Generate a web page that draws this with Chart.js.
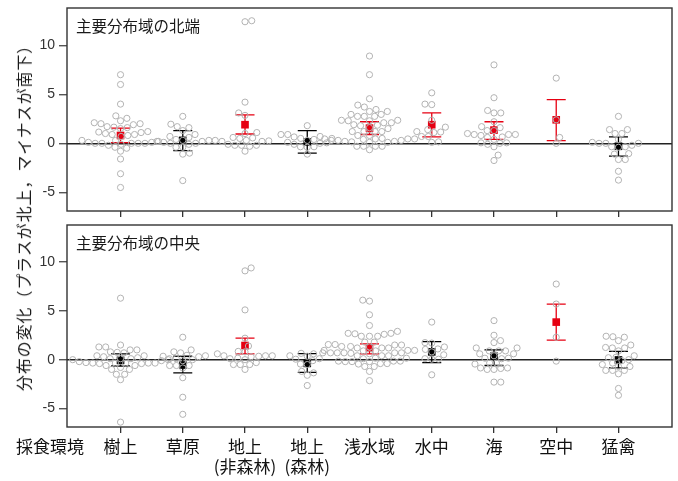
<!DOCTYPE html>
<html><head><meta charset="utf-8">
<script src="https://cdn.jsdelivr.net/npm/chart.js@4/dist/chart.umd.min.js"></script>
<style>
html,body{margin:0;padding:0;background:#fff;}
#wrap{position:relative;width:678px;height:481px;overflow:hidden;background:#fff;}
#c1{position:absolute;left:0;top:0;}
#c2{position:absolute;left:0;top:218px;}
#ytitle{position:absolute;left:23px;top:214px;transform:translate(-50%,-50%) rotate(-90deg);white-space:nowrap;font-size:16px;font-family:"Noto Sans CJK JP";color:#1a1a1a;line-height:1;letter-spacing:0.9px;}
</style></head><body>
<div id="wrap">
<canvas id="c1" width="678" height="218"></canvas>
<canvas id="c2" width="678" height="263"></canvas>
<div id="ytitle">分布の変化（プラスが北上，マイナスが南下）</div>
</div>
<script>
// ---------- data ----------
const categories = ['樹上', '草原', ['地上', '(非森林)'], ['地上', '(森林)'], '浅水域', '水中', '海', '空中', '猛禽'];
const axisName = '採食環境';
const yTickValues = [-5, 0, 5, 10];
const panelTitles = ['主要分布域の北端', '主要分布域の中央'];

// 北端 (northern edge)
const northPoints = [
  [7.0, 6.0, 4.0, 2.8, 2.55, 2.3, 2.1, 2.0, 2.0, 1.9, 1.7, 1.65, 1.6, 1.5, 1.2, 1.15, 1.1, 1.0, 0.9, 0.9, 0.8, 0.7, 0.3, 0.3, 0.2, 0.1, 0.1, 0, 0, 0, 0, 0, -0.1, -0.2, -0.4, -0.5, -0.8, -1.6, -3.1, -4.5],
  [2.75, 1.95, 1.7, 1.6, 1.3, 0.9, 0.7, 0.6, 0.4, 0.3, 0.3, 0.2, 0.2, 0.1, 0, 0, -0.1, -0.4, -0.4, -1.0, -1.1, -3.8],
  [12.5, 12.4, 4.2, 3.1, 2.85, 1.1, 1.0, 0.6, 0.55, 0.5, 0.3, 0.3, 0.25, 0.2, 0.2, -0.1, -0.2, -0.2, -0.2, -0.3, -0.8],
  [1.8, 0.9, 0.9, 0.7, 0.65, 0.5, 0.5, 0.4, 0.3, 0.1, 0.05, 0.0, -0.1, -0.35, -0.35, -0.4, -1.1],
  [8.9, 7.0, 4.55, 3.9, 3.7, 3.45, 3.25, 3.25, 2.95, 2.95, 2.75, 2.75, 2.75, 2.35, 2.35, 2.3, 2.3, 2.1, 2.1, 1.9, 1.85, 1.8, 1.6, 1.5, 1.2, 1.2, 1.2, 1.2, 0.8, 0.8, 0.5, 0.45, 0.45, 0.45, 0.45, 0.4, 0.3, 0.3, 0.3, 0.2, 0.2, 0.15, 0.1, 0.1, -0.3, -0.3, -0.3, -0.3, -0.65, -3.55],
  [5.15, 4.0, 3.95, 2.35, 1.65, 1.4, 1.2, 1.15, 1.1, 0.7, 0.7, 0.15, 0.1],
  [8.0, 4.65, 3.35, 3.1, 3.1, 2.2, 1.7, 1.6, 1.3, 1.3, 1.0, 0.9, 0.9, 0.9, 0.8, 0.65, 0.6, 0.4, 0.05, 0.05, 0.0, -0.1, -0.35, -1.2, -1.75],
  [6.65, 2.4, 0.6, 0.0],
  [2.75, 1.4, 1.4, 1.0, 1.0, 0.4, 0.1, 0.0, 0.0, 0.0, -0.2, -0.35, -0.35, -0.4, -1.05, -1.1, -1.65, -1.65, -2.85, -3.75]
];
const northMean = [0.8, 0.3, 1.9, 0.15, 1.55, 1.9, 1.35, 2.4, -0.3];
const northLow  = [0.07, -0.75, 0.95, -1.0, 0.9, 0.65, 0.4, 0.27, -1.3];
const northHigh = [1.55, 1.3, 2.9, 1.3, 2.2, 3.1, 2.2, 4.45, 0.65];
const northSignificant = [true, false, true, false, true, true, true, true, false];

// 中央 (centre)
const centrePoints = [
  [6.3, 1.5, 1.3, 1.3, 1.0, 1.0, 0.8, 0.75, 0.7, 0.4, 0.4, 0.3, 0.2, 0.1, 0.1, 0.1, 0.0, 0.0, -0.1, -0.2, -0.3, -0.35, -0.35, -0.35, -0.35, -0.35, -0.4, -0.4, -0.6, -0.6, -0.8, -1.0, -1.0, -1.5, -1.5, -2.05, -6.4],
  [2.3, 1.0, 0.8, 0.7, 0.45, 0.4, 0.35, 0.3, 0.1, 0.1, 0.0, -0.1, -0.6, -0.6, -0.6, -0.85, -1.85, -3.85, -5.6],
  [9.4, 9.1, 5.1, 2.2, 1.4, 0.85, 0.8, 0.6, 0.4, 0.4, 0.4, 0.35, 0.3, 0.15, 0.1, 0.0, -0.3, -0.5, -0.5, -0.5, -1.0],
  [0.7, 0.65, 0.6, 0.4, 0.35, 0.1, 0.05, -0.1, -0.45, -0.5, -1.2, -1.35, -1.6, -2.65],
  [6.1, 6.0, 4.6, 3.5, 2.9, 2.7, 2.7, 2.65, 2.6, 2.4, 2.4, 2.4, 1.8, 1.8, 1.55, 1.55, 1.5, 1.5, 1.35, 1.35, 1.3, 1.2, 1.2, 1.2, 0.95, 0.95, 0.95, 0.9, 0.9, 0.7, 0.7, 0.7, 0.7, 0.7, 0.65, 0.6, 0.4, 0.4, 0.4, 0.15, 0.15, 0.1, -0.15, -0.15, -0.15, -0.2, -0.2, -0.2, -0.4, -0.4, -0.45, -0.7, -0.7, -1.2, -2.15],
  [3.85, 1.75, 1.7, 1.3, 1.1, 1.05, 0.8, 0.5, 0.1, 0.05, 0.05, -1.55],
  [4.0, 2.5, 1.95, 1.75, 1.2, 1.2, 0.9, 0.9, 0.9, 0.6, 0.6, 0.4, 0.15, 0.15, 0.1, -0.35, -0.35, -0.45, -0.85, -0.85, -0.9, -1.0, -1.0, -2.3, -2.3],
  [7.75, 5.7, 2.3, -0.15],
  [2.4, 2.35, 2.3, 1.95, 1.5, 1.25, 1.2, 1.2, 0.9, 0.4, 0.25, 0.2, 0.0, -0.1, -0.35, -0.5, -0.7, -0.7, -1.1, -1.1, -1.1, -1.45, -2.95, -3.65]
];
const centreMean = [-0.07, -0.55, 1.45, -0.38, 1.22, 0.8, 0.35, 3.85, -0.03];
const centreLow  = [-0.65, -1.35, 0.6, -1.3, 0.6, -0.3, -0.6, 2.0, -0.85];
const centreHigh = [0.6, 0.35, 2.2, 0.62, 1.62, 1.85, 1.0, 5.7, 0.85];
const centreSignificant = [false, false, true, false, true, false, false, true, false];

// ---------- styling ----------
const RED = '#e60012';
const BLACK = '#000000';
const GREY = '#b3b3b3';
const FRAME = '#333333';
const CJK = '"Noto Sans CJK JP", "Noto Sans CJK SC", sans-serif';

function swarmLayout(chart, groups) {
  const xs = chart.scales.x, ys = chart.scales.y;
  const pxPerCat = xs.getPixelForValue(1) - xs.getPixelForValue(0);
  const D = 6.8;
  const out = [];
  groups.forEach((vals, ci) => {
    const pts = vals.map(v => ({ v: v, py: ys.getPixelForValue(v) }))
      .sort((a, b) => b.py - a.py);
    const placed = [];
    let toggle = 1;
    pts.forEach(p => {
      const cands = [0];
      placed.forEach(q => {
        const dy = p.py - q.py;
        if (Math.abs(dy) < D) {
          const dx = Math.sqrt(D * D - dy * dy);
          cands.push(q.px + dx, q.px - dx);
        }
      });
      const ok = c => placed.every(q => (q.px - c) ** 2 + (q.py - p.py) ** 2 >= D * D - 0.05);
      const valid = cands.filter(ok).sort((a, b) => Math.abs(a) - Math.abs(b));
      let best = valid[0];
      const twin = valid.find(c => Math.abs(Math.abs(c) - Math.abs(best)) < 0.3 && Math.sign(c) !== Math.sign(best));
      if (twin !== undefined && best !== 0) {
        best = (toggle > 0) ? Math.max(best, twin) : Math.min(best, twin);
        toggle = -toggle;
      }
      p.px = best;
      placed.push(p);
      out.push({ x: ci + p.px / pxPerCat, y: p.v });
    });
  });
  return out;
}

const framePlugin = {
  id: 'frame',
  beforeDatasetsDraw(chart) {
    const { ctx, chartArea: a, scales } = chart;
    const o = chart.options.plugins.frame;
    ctx.save();
    ctx.lineWidth = 1.3;
    o.mean.forEach((m, i) => {
      const x = scales.x.getPixelForValue(i);
      const y1 = scales.y.getPixelForValue(o.low[i]);
      const y2 = scales.y.getPixelForValue(o.high[i]);
      ctx.strokeStyle = o.sig[i] ? RED : BLACK;
      ctx.beginPath();
      ctx.moveTo(x, y1); ctx.lineTo(x, y2);
      ctx.moveTo(x - 9.5, y1); ctx.lineTo(x + 9.5, y1);
      ctx.moveTo(x - 9.5, y2); ctx.lineTo(x + 9.5, y2);
      ctx.stroke();
    });
    ctx.restore();
  },
  afterDraw(chart) {
    const { ctx, chartArea: a } = chart;
    const o = chart.options.plugins.frame;
    ctx.save();
    ctx.strokeStyle = FRAME;
    ctx.lineWidth = 1.4;
    ctx.strokeRect(a.left, a.top, a.right - a.left, a.bottom - a.top);
    ctx.fillStyle = '#1a1a1a';
    ctx.font = '15.5px ' + CJK;
    ctx.textBaseline = 'middle';
    ctx.textAlign = 'left';
    ctx.fillText(o.title, a.left + 9, a.top + 18.5);
    if (o.axisName) {
      ctx.font = '17px ' + CJK;
      ctx.textAlign = 'center';
      ctx.fillStyle = '#111';
      ctx.fillText(o.axisName, 50, o.axisNameY);
    }
    ctx.restore();
  }
};

function makeChart(id, points, mean, low, high, sig, title, opts) {
  const chart = new Chart(document.getElementById(id), {
    type: 'scatter',
    data: {
      datasets: [
        {
          data: [],
          pointStyle: 'circle',
          radius: 3.1,
          borderWidth: 1,
          borderColor: GREY,
          backgroundColor: 'rgba(0,0,0,0)',
          hoverRadius: 3.1
        },
        {
          data: mean.map((m, i) => ({ x: i, y: m })),
          pointStyle: 'rect',
          radius: 5.4,
          borderWidth: 0,
          backgroundColor: sig.map(s => s ? RED : BLACK),
          hoverRadius: 5.4
        }
      ]
    },
    options: {
      responsive: false,
      animation: false,
      events: [],
      layout: { padding: { top: opts.padTop, right: 6, left: 0, bottom: 0 } },
      plugins: {
        legend: { display: false },
        tooltip: { enabled: false },
        frame: { mean, low, high, sig, title, axisName: opts.axisName, axisNameY: opts.axisNameY }
      },
      scales: {
        x: {
          type: 'linear',
          min: -0.86, max: 8.86,
          afterBuildTicks: s => { s.ticks = categories.map((c, i) => ({ value: i })); },
          afterFit: s => { s.height = opts.xHeight; s.paddingLeft = 0; s.paddingRight = 0; },
          border: { display: false },
          grid: { drawOnChartArea: false, drawTicks: true, tickLength: 6, tickColor: FRAME, lineWidth: 1.3 },
          ticks: {
            display: opts.showLabels,
            autoSkip: false,
            maxRotation: 0,
            padding: 3,
            color: '#111',
            font: { family: CJK, size: 17, lineHeight: 1.2 },
            callback: (v) => categories[Math.round(v)]
          }
        },
        y: {
          type: 'linear',
          min: -6.9, max: 13.8,
          afterBuildTicks: s => { s.ticks = yTickValues.map(v => ({ value: v })); },
          afterFit: s => { s.width = 67; s.paddingTop = 0; s.paddingBottom = 0; },
          border: { display: false },
          grid: {
            color: c => (c.tick && c.tick.value === 0) ? '#222' : 'rgba(0,0,0,0)',
            tickColor: '#555',
            tickLength: 8,
            lineWidth: 1.4
          },
          ticks: {
            color: '#333',
            padding: 4,
            font: { family: '"Liberation Sans", Arial, sans-serif', size: 14 },
            callback: v => String(v)
          }
        }
      }
    },
    plugins: [framePlugin]
  });
  chart.data.datasets[0].data = swarmLayout(chart, points);
  chart.update('none');
  return chart;
}

makeChart('c1', northPoints, northMean, northLow, northHigh, northSignificant, panelTitles[0],
  { padTop: 8, xHeight: 7, showLabels: false });
makeChart('c2', centrePoints, centreMean, centreLow, centreHigh, centreSignificant, panelTitles[1],
  { padTop: 7, xHeight: 54, showLabels: true, axisName: axisName, axisNameY: 229 });
</script>
</body></html>
